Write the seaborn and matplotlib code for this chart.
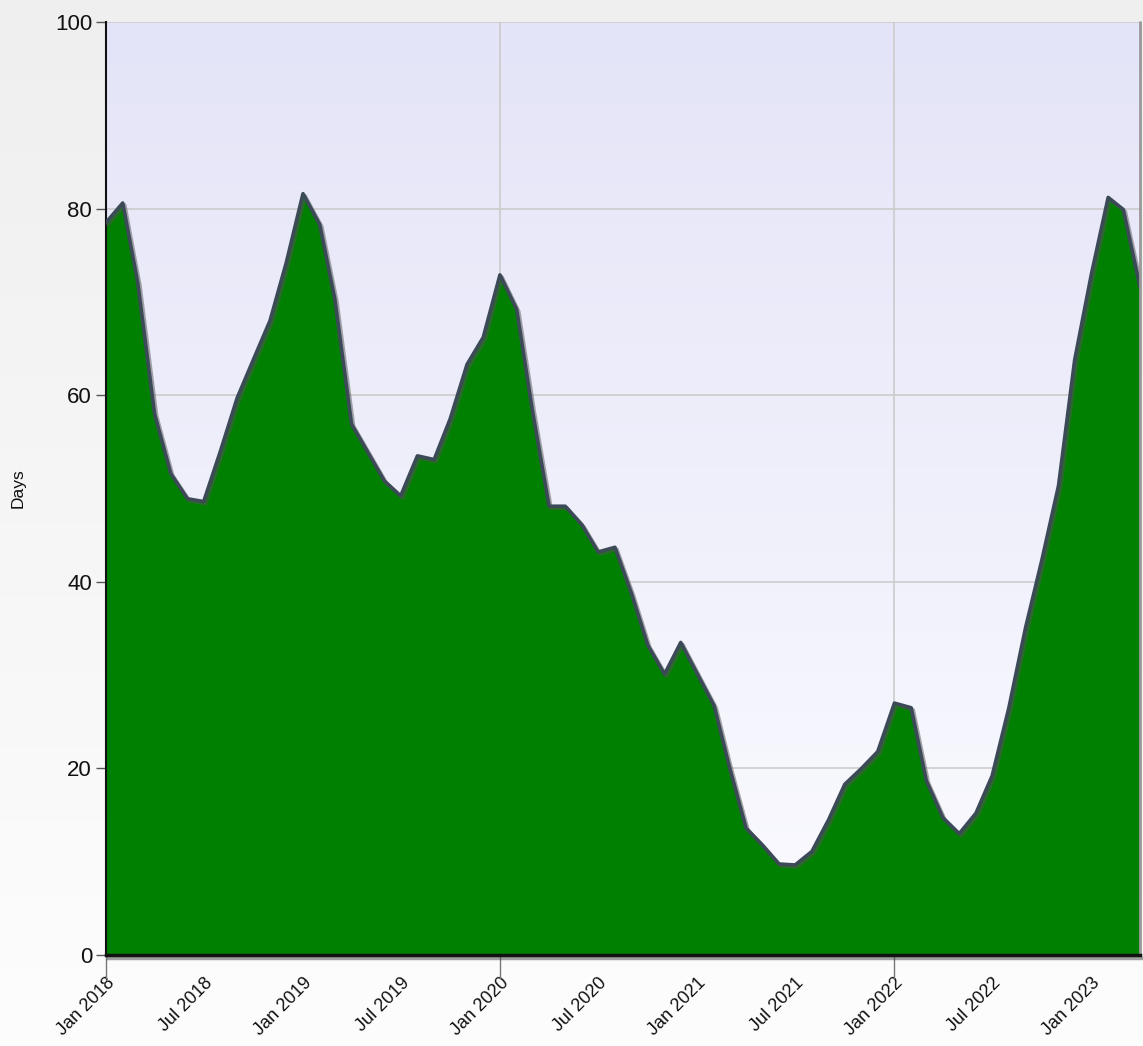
import numpy as np
import pandas as pd
import matplotlib
matplotlib.use("Agg")
import matplotlib.pyplot as plt
import matplotlib.dates as mdates
import matplotlib.patheffects as pe
import seaborn as sns

# ---- data ----
start_month = "2018-01-01"
days = [78.5, 80.6, 72.0, 58.0, 51.6, 48.9, 48.6, 54.0, 59.7, 63.8, 68.0, 74.2,
        81.6, 78.3, 70.3, 56.9, 53.9, 50.8, 49.2, 53.5, 53.1, 57.5, 63.3, 66.2,
        72.9, 69.2, 58.4, 48.1, 48.1, 46.1, 43.2, 43.7, 38.7, 33.2, 30.1, 33.5,
        30.1, 26.7, 20.2, 13.6, 11.8, 9.75, 9.65, 11.1, 14.5, 18.3, 20.0, 21.8,
        27.0, 26.5, 18.7, 14.7, 13.0, 15.2, 19.2, 26.5, 35.1, 42.3, 50.3, 63.8,
        73.0, 81.2, 79.9, 71.6]
y_ticks = [0, 20, 40, 60, 80, 100]
y_label = "Days"

dates = pd.date_range(start_month, periods=len(days), freq="MS")
df = pd.DataFrame({"date": dates, "days": days})

sns.set_theme(style="white")
plt.rcParams['font.family'] = ['Liberation Sans', 'DejaVu Sans']

W, H = 1143, 1046
fig = plt.figure(figsize=(W / 100, H / 100), dpi=100)

# figure background gradient
bg = fig.add_axes([0, 0, 1, 1], zorder=-10)
bg.imshow(np.linspace(0, 1, 256).reshape(-1, 1), cmap=matplotlib.colors.LinearSegmentedColormap.from_list(
    "fbg", ["#efefef", "#fdfdfd"]), aspect="auto", extent=[0, 1, 0, 1], origin="upper")
bg.set_axis_off()

ax = fig.add_axes([106 / W, 1 - 955 / H, (1140 - 106) / W, (955 - 22) / H])
ax.patch.set_alpha(0)

x0 = mdates.date2num(pd.Timestamp(dates[0]))
x1 = mdates.date2num(pd.Timestamp(dates[-1]))
# plot area gradient
ax.imshow(np.linspace(0, 1, 256).reshape(-1, 1),
          cmap=matplotlib.colors.LinearSegmentedColormap.from_list("pbg", ["#e4e4f8", "#fbfbff"]),
          aspect="auto", extent=[x0, x1, 0, 100], origin="upper", zorder=0)

ax.fill_between(df["date"], 0, df["days"], color="#008000", zorder=2, linewidth=0)
sns.lineplot(data=df, x="date", y="days", ax=ax, color="#3c4a58", linewidth=2.6, zorder=3,
             path_effects=[pe.SimpleLineShadow(offset=(1.5, -1.5), shadow_color="#555555", alpha=0.5), pe.Normal()])

ax.set_xlim(x0, x1)
ax.set_ylim(0, 100)

# grid
for yv in y_ticks[1:-1]:
    ax.axhline(yv, color="#cccccc", linewidth=1.2, zorder=1)
ax.axhline(100, color="#cccccc", linewidth=1.2, zorder=1)
for yr in ["2020-01-01", "2022-01-01"]:
    ax.axvline(pd.Timestamp(yr), color="#cccccc", linewidth=1.2, zorder=1)

ax.set_yticks(y_ticks)
ax.set_yticklabels([str(v) for v in y_ticks], fontsize=16, color="#111111")
ax.tick_params(axis="y", length=7, width=1, color="#555555", left=True, pad=3)

tick_dates = pd.date_range("2018-01-01", "2023-01-01", freq="6MS")
ax.set_xticks(tick_dates)
ax.set_xticklabels([d.strftime("%b %Y") for d in tick_dates], rotation=45, ha="right",
                   rotation_mode="anchor", fontsize=13, color="#111111")
ax.tick_params(axis="x", length=0, pad=14)
# major tick marks every two years
for yr in ["2018-01-01", "2020-01-01", "2022-01-01"]:
    ax.plot([pd.Timestamp(yr)] * 2, [0, -2.5], color="#777777", linewidth=1, clip_on=False, zorder=1)

ax.set_xlabel("")
ax.set_ylabel(y_label, fontsize=12.5, color="#111111")
ax.yaxis.set_label_coords(-0.078, 0.5)

for s in ["top", "right"]:
    ax.spines[s].set_visible(False)
ax.spines["left"].set_color("#111111")
ax.spines["left"].set_linewidth(1.5)
ax.spines["bottom"].set_color("#111111")
ax.spines["bottom"].set_linewidth(2.5)
ax.spines["bottom"].set_zorder(4)
ax.spines["bottom"].set_path_effects([pe.SimpleLineShadow(offset=(1.5, -2), shadow_color="#444444", alpha=0.5), pe.Normal()])
ax.plot([x1, x1], [0, 100], color="#999999", linewidth=2, zorder=4, clip_on=False)

fig.savefig("out.png", dpi=100)
